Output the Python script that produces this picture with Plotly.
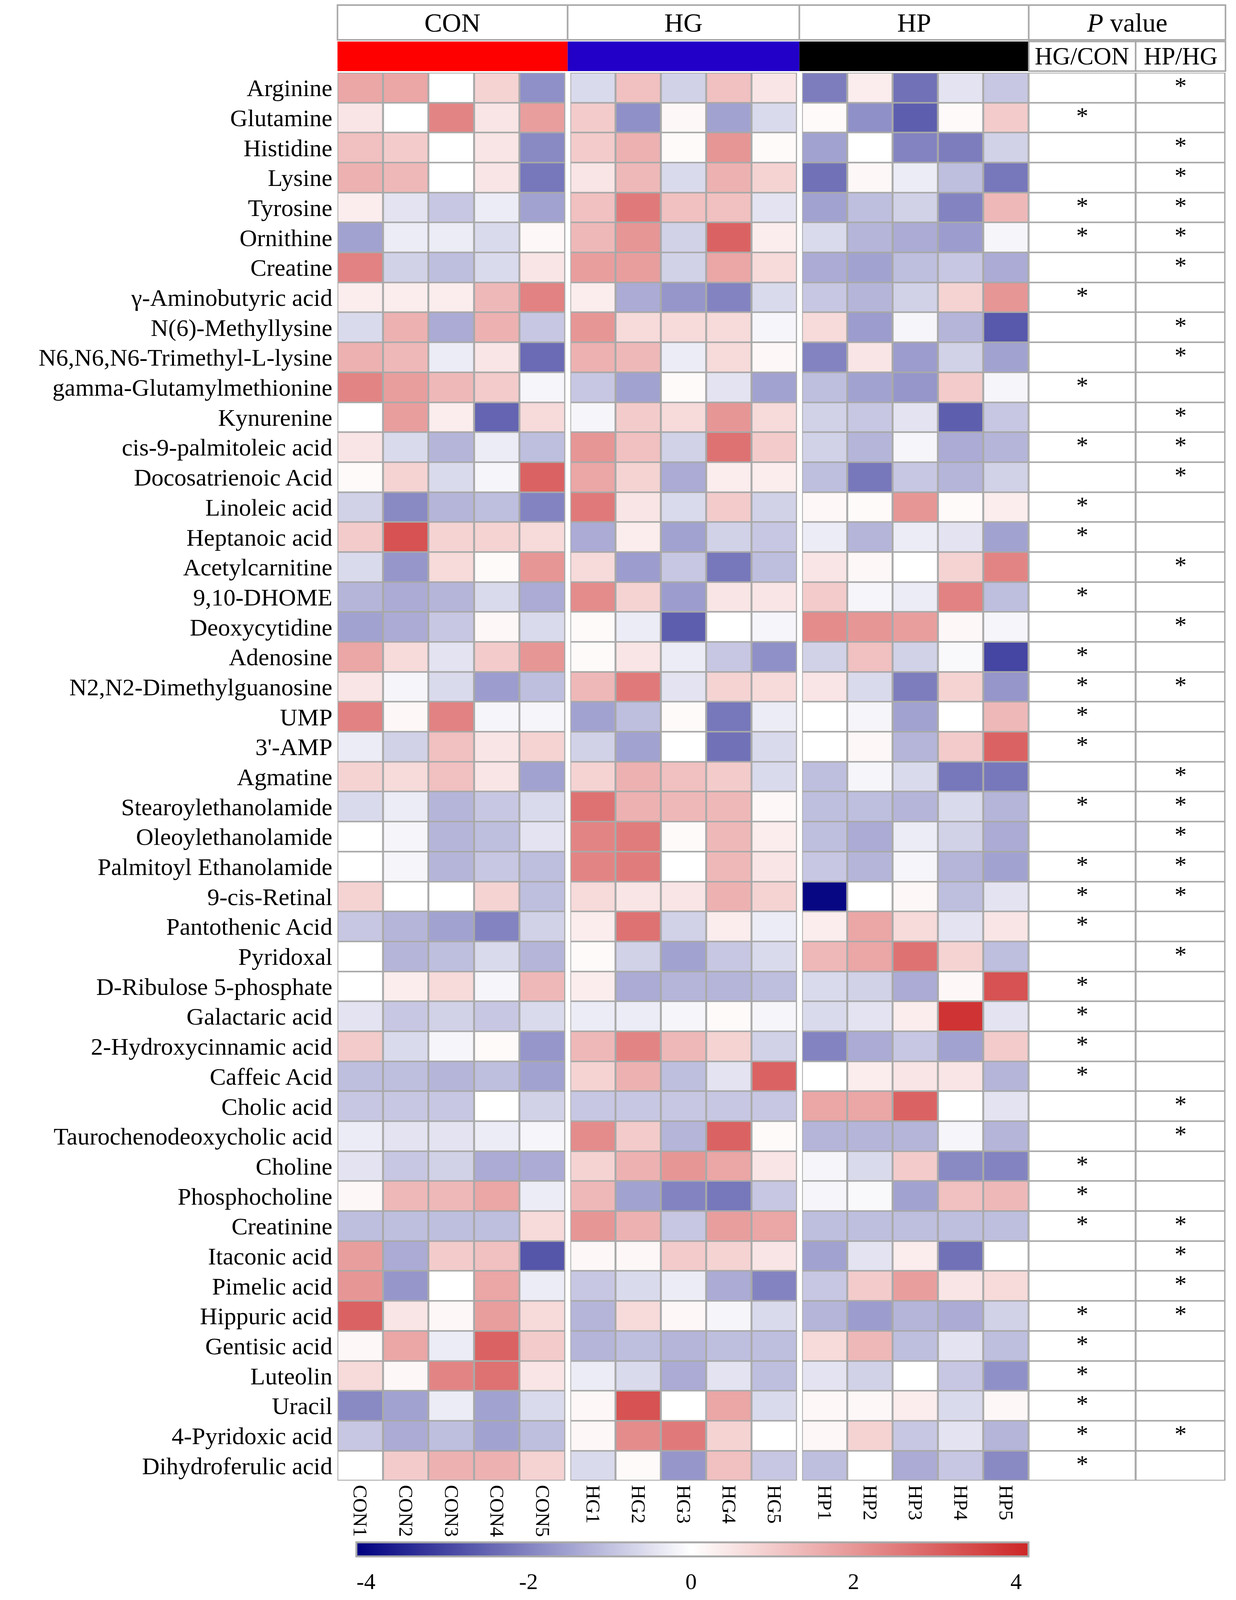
import plotly.graph_objects as go

W, H = 3163, 4886

metabolites = [
    "Arginine", "Glutamine", "Histidine", "Lysine", "Tyrosine", "Ornithine",
    "Creatine", "γ-Aminobutyric acid", "N(6)-Methyllysine",
    "N6,N6,N6-Trimethyl-L-lysine", "gamma-Glutamylmethionine", "Kynurenine",
    "cis-9-palmitoleic acid", "Docosatrienoic Acid", "Linoleic acid",
    "Heptanoic acid", "Acetylcarnitine", "9,10-DHOME", "Deoxycytidine",
    "Adenosine", "N2,N2-Dimethylguanosine", "UMP", "3'-AMP", "Agmatine",
    "Stearoylethanolamide", "Oleoylethanolamide", "Palmitoyl Ethanolamide",
    "9-cis-Retinal", "Pantothenic Acid", "Pyridoxal", "D-Ribulose 5-phosphate",
    "Galactaric acid", "2-Hydroxycinnamic acid", "Caffeic Acid", "Cholic acid",
    "Taurochenodeoxycholic acid", "Choline", "Phosphocholine", "Creatinine",
    "Itaconic acid", "Pimelic acid", "Hippuric acid", "Gentisic acid",
    "Luteolin", "Uracil", "4-Pyridoxic acid", "Dihydroferulic acid",
]

con_samples = ["CON1", "CON2", "CON3", "CON4", "CON5"]
hg_samples = ["HG1", "HG2", "HG3", "HG4", "HG5"]
hp_samples = ["HP1", "HP2", "HP3", "HP4", "HP5"]

# z-scores per metabolite: CON1-5, HG1-5, HP1-5
values = [
    [1.7, 1.7, 0.0, 0.85, -1.8, -0.6, 1.2, -0.75, 1.2, 0.5, -2.1, 0.35, -2.3, -0.45, -0.9],
    [0.5, 0.0, 2.35, 0.5, 1.85, 1.0, -1.8, 0.15, -1.5, -0.6, 0.1, -1.8, -2.6, 0.1, 1.0],
    [1.2, 1.0, 0.0, 0.5, -1.9, 1.0, 1.5, 0.1, 2.0, 0.1, -1.5, 0.0, -2.0, -2.1, -0.75],
    [1.5, 1.35, 0.0, 0.5, -2.2, 0.5, 1.35, -0.6, 1.5, 0.85, -2.3, 0.15, -0.3, -1.05, -2.2],
    [0.35, -0.45, -0.9, -0.3, -1.5, 1.2, 2.55, 1.2, 1.2, -0.45, -1.5, -1.05, -0.75, -2.0, 1.35],
    [-1.5, -0.3, -0.3, -0.6, 0.15, 1.35, 2.0, -0.75, 3.0, 0.35, -0.6, -1.2, -1.35, -1.6, -0.15],
    [2.4, -0.75, -1.05, -0.6, 0.5, 1.85, 1.85, -0.75, 1.7, 0.7, -1.35, -1.5, -1.05, -0.9, -1.35],
    [0.35, 0.35, 0.35, 1.35, 2.4, 0.35, -1.35, -1.7, -2.0, -0.6, -0.9, -1.2, -0.75, 0.85, 2.0],
    [-0.6, 1.5, -1.35, 1.5, -0.9, 2.0, 0.7, 0.7, 0.7, -0.15, 0.7, -1.6, -0.15, -1.2, -2.7],
    [1.5, 1.35, -0.3, 0.5, -2.4, 1.5, 1.35, -0.3, 0.7, 0.15, -2.0, 0.5, -1.6, -0.75, -1.5],
    [2.35, 1.85, 1.35, 1.0, -0.15, -0.9, -1.5, 0.1, -0.45, -1.5, -1.05, -1.5, -1.7, 1.0, -0.15],
    [0.0, 1.85, 0.35, -2.5, 0.7, -0.15, 1.0, 0.7, 2.0, 0.7, -0.75, -0.9, -0.45, -2.6, -0.9],
    [0.5, -0.6, -1.2, -0.3, -1.05, 2.0, 1.2, -0.75, 2.7, 1.0, -0.75, -1.2, -0.15, -1.35, -1.2],
    [0.1, 0.85, -0.6, -0.15, 3.0, 1.7, 0.85, -1.35, 0.35, 0.35, -1.05, -2.2, -0.9, -1.2, -0.75],
    [-0.75, -1.9, -1.2, -1.05, -2.0, 2.55, 0.5, -0.6, 1.0, -0.75, 0.15, 0.1, 2.0, 0.1, 0.35],
    [1.0, 3.3, 0.85, 0.85, 0.7, -1.35, 0.35, -1.5, -0.75, -0.9, -0.3, -1.2, -0.3, -0.45, -1.5],
    [-0.6, -1.7, 0.7, 0.1, 2.0, 0.7, -1.6, -0.9, -2.2, -1.05, 0.5, 0.15, 0.0, 0.85, 2.35],
    [-1.2, -1.35, -1.2, -0.6, -1.35, 2.2, 0.85, -1.6, 0.5, 0.5, 1.0, -0.15, -0.3, 2.4, -1.05],
    [-1.5, -1.35, -0.9, 0.15, -0.6, 0.1, -0.3, -2.6, 0.0, -0.15, 2.2, 2.0, 1.85, 0.15, -0.15],
    [1.7, 0.7, -0.45, 1.0, 2.0, 0.1, 0.5, -0.3, -0.9, -1.8, -0.75, 1.2, -0.75, -0.1, -3.0],
    [0.5, -0.15, -0.6, -1.6, -1.05, 1.35, 2.55, -0.45, 0.85, 0.7, 0.5, -0.6, -2.1, 0.85, -1.7],
    [2.4, 0.15, 2.4, -0.15, -0.15, -1.5, -1.05, 0.1, -2.2, -0.3, 0.0, -0.15, -1.5, 0.0, 1.35],
    [-0.3, -0.75, 1.2, 0.5, 0.85, -0.75, -1.5, 0.0, -2.3, -0.6, 0.0, 0.15, -1.2, 1.0, 3.0],
    [0.85, 0.7, 1.2, 0.5, -1.5, 0.85, 1.5, 1.2, 1.0, -0.6, -1.05, -0.15, -0.6, -2.2, -2.2],
    [-0.6, -0.3, -1.2, -0.9, -0.6, 2.7, 1.5, 1.35, 1.35, 0.15, -1.05, -1.05, -1.2, -0.6, -1.2],
    [0.0, -0.15, -1.2, -1.05, -0.45, 2.35, 2.5, 0.1, 1.35, 0.35, -1.05, -1.35, -0.3, -0.75, -1.35],
    [0.0, -0.15, -1.2, -0.9, -1.05, 2.35, 2.5, 0.0, 1.35, 0.5, -0.9, -1.2, -0.15, -1.2, -1.5],
    [0.85, 0.0, 0.0, 0.85, -1.05, 0.7, 0.5, 0.5, 1.5, 0.85, -4.0, 0.0, 0.15, -1.05, -0.45],
    [-0.9, -1.2, -1.5, -2.0, -0.75, 0.35, 2.7, -0.75, 0.35, -0.3, 0.35, 1.7, 0.7, -0.45, 0.5],
    [0.0, -1.2, -1.05, -0.6, -1.2, 0.1, -0.75, -1.5, -0.9, -0.6, 1.35, 1.7, 2.7, 0.85, -1.05],
    [0.0, 0.35, 0.7, -0.15, 1.35, 0.35, -1.35, -1.2, -1.2, -1.05, -0.6, -0.75, -1.35, 0.15, 3.3],
    [-0.45, -0.9, -0.75, -0.9, -0.6, -0.3, -0.3, -0.15, 0.1, -0.15, -0.6, -0.45, 0.35, 3.9, -0.45],
    [1.0, -0.6, -0.15, 0.1, -1.7, 1.35, 2.35, 1.35, 0.85, -0.75, -2.0, -1.35, -0.9, -1.5, 1.0],
    [-1.05, -1.05, -1.2, -1.05, -1.5, 0.85, 1.5, -1.05, -0.45, 3.0, 0.0, 0.35, 0.5, 0.5, -1.2],
    [-0.9, -0.9, -0.9, 0.0, -0.75, -0.9, -0.9, -0.9, -0.9, -0.9, 1.7, 1.7, 3.0, 0.0, -0.45],
    [-0.3, -0.45, -0.45, -0.3, -0.15, 2.2, 1.0, -1.2, 3.0, 0.1, -1.2, -1.2, -1.2, -0.15, -1.2],
    [-0.45, -0.9, -0.75, -1.35, -1.35, 0.85, 1.5, 2.0, 1.7, 0.5, -0.15, -0.6, 1.0, -1.9, -2.0],
    [0.15, 1.35, 1.35, 1.7, -0.3, 1.35, -1.5, -2.0, -2.2, -0.9, -0.15, -0.1, -1.5, 1.2, 1.35],
    [-1.05, -1.05, -1.05, -1.05, 0.7, 2.0, 1.5, -0.9, 1.85, 1.7, -1.05, -1.05, -1.05, -1.05, -1.05],
    [1.85, -1.35, 1.0, 1.2, -2.75, 0.15, 0.15, 1.0, 0.85, 0.5, -1.5, -0.45, 0.35, -2.3, 0.0],
    [2.0, -1.7, 0.0, 1.7, -0.3, -0.9, -0.6, -0.3, -1.35, -2.0, -0.9, 1.0, 1.85, 0.5, 0.7],
    [3.0, 0.5, 0.15, 1.85, 0.7, -1.2, 0.7, 0.15, -0.15, -0.6, -1.2, -1.6, -1.2, -1.35, -0.75],
    [0.15, 1.7, -0.3, 3.0, 1.0, -1.2, -1.05, -1.2, -1.05, -1.05, 0.7, 1.35, -1.05, -0.45, -1.05],
    [0.7, 0.15, 2.35, 2.7, 0.5, -0.3, -0.6, -1.35, -0.45, -1.05, -0.45, -0.75, 0.0, -0.9, -1.8],
    [-1.9, -1.5, -0.3, -1.5, -0.6, 0.15, 3.3, 0.0, 1.7, -0.6, 0.15, 0.15, 0.35, -0.6, 0.15],
    [-0.9, -1.35, -1.05, -1.5, -1.05, 0.15, 2.2, 2.55, 0.85, 0.0, 0.15, 0.85, -0.9, -0.45, -1.2],
    [0.0, 1.0, 1.5, 1.5, 0.85, -0.6, 0.1, -1.7, 1.2, -0.9, -1.05, 0.0, -1.35, -0.9, -1.9],
]

# significance marks (1 = *)
sig_hg_con = [0, 1, 0, 0, 1, 1, 0, 1, 0, 0, 1, 0, 1, 0, 1, 1, 0, 1, 0, 1, 1, 1, 1, 0,
              1, 0, 1, 1, 1, 0, 1, 1, 1, 1, 0, 0, 1, 1, 1, 0, 0, 1, 1, 1, 1, 1, 1]
sig_hp_hg = [1, 0, 1, 1, 1, 1, 1, 0, 1, 1, 0, 1, 1, 1, 0, 0, 1, 0, 1, 0, 1, 0, 0, 1,
             1, 1, 1, 1, 0, 1, 0, 0, 0, 0, 1, 1, 0, 0, 1, 1, 1, 1, 0, 0, 0, 1, 0]

groups = ["CON", "HG", "HP"]
group_colors = ["#ff0000", "#2200c8", "#000000"]
pval_cols = ["HG/CON", "HP/HG"]
cbar_ticks = [-4, -2, 0, 2, 4]

FONT = "Liberation Serif"
GRID = "#a9a9a9"

# positions measured on the reference (pixels), converted to paper fractions
def px(x):
    return x / W

def py(y):
    return 1 - y / H

group_px = [(860, 1446), (1459, 2042), (2055, 2638)]
header_edges = [860, 1452, 2048, 2638, 3144]
pval_px = (2638, 3144)
pval_edges = [2638, 2913, 3144]
heat_top, heat_bot = 214, 4543
zmin, zmax = -4.12, 4.15
z0 = -zmin / (zmax - zmin)
n_rows = len(metabolites)

fig = go.Figure()

samples = [con_samples, hg_samples, hp_samples]
for g in range(3):
    z = [row[g * 5:(g + 1) * 5] for row in values]
    fig.add_trace(go.Heatmap(
        z=z, x=samples[g], y=metabolites,
        coloraxis="coloraxis", xgap=5, ygap=4,
        xaxis="x" if g == 0 else f"x{g + 1}", yaxis="y",
        hovertemplate="%{y}<br>%{x}: %{z}<extra></extra>",
    ))

# p-value table cells
fig.add_trace(go.Heatmap(
    z=[[0, 0] for _ in metabolites], x=pval_edges, y=metabolites,
    colorscale=[[0, "white"], [1, "white"]], showscale=False,
    xgap=5, ygap=4, xaxis="x4", yaxis="y", hoverinfo="skip",
))
centers = [(pval_edges[0] + pval_edges[1]) / 2, (pval_edges[1] + pval_edges[2]) / 2]
for ci, sig in enumerate([sig_hg_con, sig_hp_hg]):
    ys = [m for m, s in zip(metabolites, sig) if s]
    fig.add_trace(go.Scatter(
        x=[centers[ci]] * len(ys), y=ys, mode="text", text=["*"] * len(ys),
        textposition="middle center", textfont=dict(family=FONT, size=62, color="black"),
        xaxis="x4", yaxis="y", showlegend=False, hoverinfo="skip",
    ))

axis_common = dict(showgrid=False, zeroline=False, showline=False, ticks="")
layout = dict(
    autosize=True,
    margin=dict(l=0, r=0, t=0, b=0),
    paper_bgcolor="white", plot_bgcolor=GRID,
    font=dict(family=FONT, size=58, color="black"),
    showlegend=False,
    yaxis=dict(domain=[py(heat_bot), py(heat_top)], range=[n_rows - 0.5, -0.5],
               type="category", anchor="x", tickfont=dict(size=62),
               ticklabelstandoff=12, **axis_common),
    coloraxis=dict(
        cmin=zmin, cmax=zmax,
        colorscale=[[0, "#000080"], [z0, "#ffffff"], [1, "#cd2626"]],
        colorbar=dict(
            orientation="h", x=px((908 + 2637) / 2), xanchor="center",
            y=-0.002, yanchor="bottom", len=px(2637 - 908), lenmode="fraction",
            thickness=36, thicknessmode="pixels",
            tickvals=cbar_ticks, ticktext=[str(t) for t in cbar_ticks],
            ticks="outside", ticklen=12, tickcolor="rgba(0,0,0,0)",
            tickfont=dict(family=FONT, size=58),
            outlinecolor=GRID, outlinewidth=5, xpad=0, ypad=0,
        ),
    ),
)
for g in range(3):
    key = "xaxis" if g == 0 else f"xaxis{g + 1}"
    layout[key] = dict(domain=[px(group_px[g][0]), px(group_px[g][1])], anchor="y",
                       type="category", tickangle=90, tickfont=dict(size=51),
                       ticklabelstandoff=10, side="bottom", **axis_common)
layout["xaxis4"] = dict(domain=[px(pval_px[0]), px(pval_px[1])], anchor="y",
                        range=[pval_edges[0], pval_edges[2]], showticklabels=False,
                        **axis_common)
fig.update_layout(**layout)

# header boxes
shapes = []
annotations = []
hdr_top, hdr_mid, bar_top, bar_bot = 6, 113, 118, 209
header_text = groups + ["<i>P</i> value"]
for i, txt in enumerate(header_text):
    x0, x1 = header_edges[i], header_edges[i + 1]
    shapes.append(dict(type="rect", xref="paper", yref="paper",
                       x0=px(x0), x1=px(x1), y0=py(hdr_mid), y1=py(hdr_top),
                       line=dict(color=GRID, width=4), fillcolor="white"))
    annotations.append(dict(text=txt, x=px((x0 + x1) / 2), y=py((hdr_top + hdr_mid) / 2),
                            xref="paper", yref="paper", showarrow=False,
                            xanchor="center", yanchor="middle",
                            font=dict(family=FONT, size=68)))
for i, col in enumerate(group_colors):
    x0, x1 = header_edges[i], header_edges[i + 1]
    shapes.append(dict(type="rect", xref="paper", yref="paper",
                       x0=px(x0), x1=px(x1), y0=py(bar_bot), y1=py(bar_top),
                       line=dict(width=0), fillcolor=col))
for i, txt in enumerate(pval_cols):
    x0, x1 = pval_edges[i], pval_edges[i + 1]
    shapes.append(dict(type="rect", xref="paper", yref="paper",
                       x0=px(x0), x1=px(x1), y0=py(bar_bot), y1=py(bar_top),
                       line=dict(color=GRID, width=4), fillcolor="white"))
    annotations.append(dict(text=txt, x=px((x0 + x1) / 2), y=py((bar_top + bar_bot) / 2),
                            xref="paper", yref="paper", showarrow=False,
                            xanchor="center", yanchor="middle",
                            font=dict(family=FONT, size=63)))
fig.update_layout(shapes=shapes, annotations=annotations)

fig.write_html("out.html", default_width="100%", default_height="calc(100vh - 20px)")
